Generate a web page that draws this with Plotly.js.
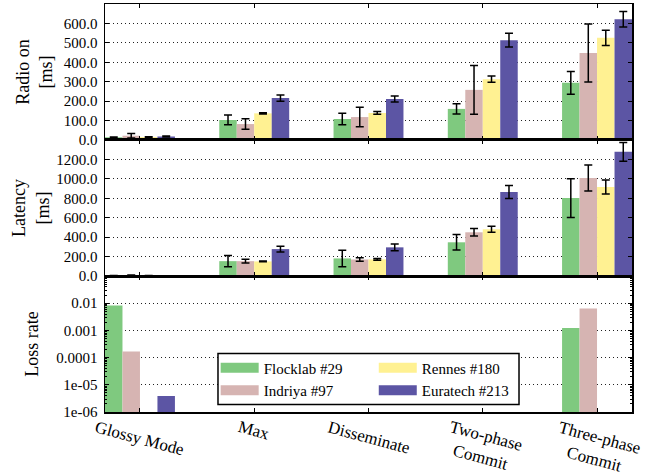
<!DOCTYPE html>
<html>
<head>
<meta charset="utf-8">
<script src="https://cdn.plot.ly/plotly-3.0.1.min.js"></script>
<style>html,body{margin:0;padding:0;background:#fff;}#chart{width:645px;height:476px;}</style>
</head>
<body>
<div id="chart"></div>
<script>
// ---- data ----
const categories = ['Glossy Mode', 'Max', 'Disseminate', 'Two-phase<br>Commit', 'Three-phase<br>Commit'];
const seriesNames = ['Flocklab #29', 'Indriya #97', 'Rennes #180', 'Euratech #213'];
const seriesColors = ['#7fc97f', '#d6b4b2', '#fff192', '#5c55a4'];

const radioFlocklab = [14, 103, 108, 160, 294];
const radioIndriya  = [22, 82, 118, 258, 448];
const radioRennes   = [15, 137, 139, 313, 526];
const radioEuratech = [18, 216, 211, 514, 622];
const radioErrFlocklab = [2, 25, 30, 26, 59];
const radioErrIndriya  = [12, 27, 50, 125, 149];
const radioErrRennes   = [2, 3, 7, 16, 39];
const radioErrEuratech = [2, 16, 15, 35, 40];

const latFlocklab = [4, 153, 181, 347, 802];
const latIndriya  = [8, 153, 170, 450, 1009];
const latRennes   = [4, 150, 171, 481, 915];
const latEuratech = [3, 277, 295, 864, 1278];
const latErrFlocklab = [2, 58, 85, 80, 200];
const latErrIndriya  = [3, 20, 18, 38, 133];
const latErrRennes   = [1, 4, 10, 30, 72];
const latErrEuratech = [1, 30, 34, 67, 97];

const lossFlocklab = [0.0082, null, null, null, 0.00123];
const lossIndriya  = [0.000167, null, null, null, 0.0064];
const lossRennes   = [null, null, null, null, null];
const lossEuratech = [0.0000039, null, null, null, null];

const radioTicks = [0, 100, 200, 300, 400, 500, 600];
const latTicks = [0, 200, 400, 600, 800, 1000, 1200];
const lossTicks = [1e-6, 1e-5, 1e-4, 1e-3, 1e-2];
const lossTickText = ['1e-06', '1e-05', '0.0001', '0.001', '0.01'];

// ---- build ----
const xIdx = categories.map((c, i) => i);
const FONT = 'Liberation Serif, DejaVu Serif, serif';
const radio = [radioFlocklab, radioIndriya, radioRennes, radioEuratech];
const radioErr = [radioErrFlocklab, radioErrIndriya, radioErrRennes, radioErrEuratech];
const lat = [latFlocklab, latIndriya, latRennes, latEuratech];
const latErr = [latErrFlocklab, latErrIndriya, latErrRennes, latErrEuratech];
const loss = [lossFlocklab, lossIndriya, lossRennes, lossEuratech];

const traces = [];
const errStyle = (arr) => ({type: 'data', array: arr, visible: true, color: '#000', thickness: 1.5, width: 4});
for (let s = 0; s < 4; s++) {
  traces.push({type: 'bar', x: xIdx, y: radio[s], error_y: errStyle(radioErr[s]), marker: {color: seriesColors[s]},
    xaxis: 'x', yaxis: 'y', showlegend: false, name: seriesNames[s]});
  traces.push({type: 'bar', x: xIdx, y: lat[s], error_y: errStyle(latErr[s]), marker: {color: seriesColors[s]},
    xaxis: 'x2', yaxis: 'y2', showlegend: false, name: seriesNames[s]});
  traces.push({type: 'bar', x: xIdx, y: loss[s], marker: {color: seriesColors[s]},
    xaxis: 'x3', yaxis: 'y3', showlegend: false, name: seriesNames[s]});
}
// legend swatches
for (let s = 0; s < 4; s++) {
  traces.push({type: 'scatter', mode: 'lines', x: [null], y: [null], name: seriesNames[s],
    line: {color: seriesColors[s], width: 12}, xaxis: 'x3', yaxis: 'y3',
    showlegend: true, legend: s < 2 ? 'legend' : 'legend2'});
}

const xr = [-0.306, 4.306];
const xax = (anchor) => ({range: xr, anchor: anchor, showticklabels: false, tickvals: xIdx,
  ticks: 'inside', ticklen: 4, tickwidth: 1, tickcolor: '#000', showline: true, mirror: 'ticks',
  linecolor: '#000', linewidth: 1.5, showgrid: false, zeroline: false, fixedrange: true});
const yax = (domain, extra) => Object.assign({domain: domain, ticks: 'inside', ticklen: 4, tickwidth: 1,
  tickcolor: '#000', showline: true, mirror: 'ticks', linecolor: '#000', linewidth: 1.5,
  showgrid: true, gridcolor: '#222', griddash: '1px,3px', gridwidth: 1, zeroline: false,
  tickfont: {family: FONT, size: 15, color: '#000'}, ticklabelstandoff: 3}, extra);

const annotations = categories.map((c, i) => ({text: c, x: i, xref: 'x3', y: 0, yref: 'paper',
  yanchor: 'top', xanchor: 'center', yshift: -3, textangle: 15, showarrow: false, align: 'center',
  font: {family: FONT, size: 17, color: '#000'}}));

const legendBase = {bgcolor: 'rgba(0,0,0,0)', borderwidth: 0, font: {family: FONT, size: 15, color: '#000'},
  xanchor: 'left', yanchor: 'top', y: 0.148, orientation: 'v', tracegroupgap: 0, itemwidth: 38};

const layout = {
  width: 645, height: 476,
  margin: {l: 105, r: 13, t: 4, b: 64, pad: 0},
  paper_bgcolor: '#fff', plot_bgcolor: '#fff',
  barmode: 'group', bargap: 0.388, bargroupgap: 0,
  showlegend: true,
  font: {family: FONT, color: '#000'},
  xaxis: xax('y'), xaxis2: xax('y2'), xaxis3: xax('y3'),
  yaxis: yax([0.6667, 1], {anchor: 'x', range: [0, 700], tickvals: radioTicks, tickformat: '.1f',
    title: {text: 'Radio on<br>[ms]', font: {family: FONT, size: 18}, standoff: 6}}),
  yaxis2: yax([0.3333, 0.6667], {anchor: 'x2', range: [0, 1400], tickvals: latTicks, tickformat: '.1f',
    title: {text: 'Latency<br>[ms]', font: {family: FONT, size: 18}, standoff: 2}}),
  yaxis3: yax([0, 0.3333], {anchor: 'x3', type: 'log', range: [-6, -1], tickvals: lossTicks, ticktext: lossTickText,
    minor: {ticks: 'inside', ticklen: 2, tickcolor: '#000', showgrid: false, dtick: 'D1'},
    title: {text: 'Loss rate', font: {family: FONT, size: 18}, standoff: 13}}),
  legend: Object.assign({}, legendBase, {x: 0.21}),
  legend2: Object.assign({}, legendBase, {x: 0.51}),
  shapes: [{type: 'rect', xref: 'paper', yref: 'paper', x0: 0.2144, x1: 0.7856, y0: 0.0184, y1: 0.1436,
    line: {color: '#000', width: 1.5}, fillcolor: '#fff', layer: 'above'}],
  annotations: annotations
};

Plotly.newPlot('chart', traces, layout, {staticPlot: true, displayModeBar: false});
</script>
</body>
</html>
